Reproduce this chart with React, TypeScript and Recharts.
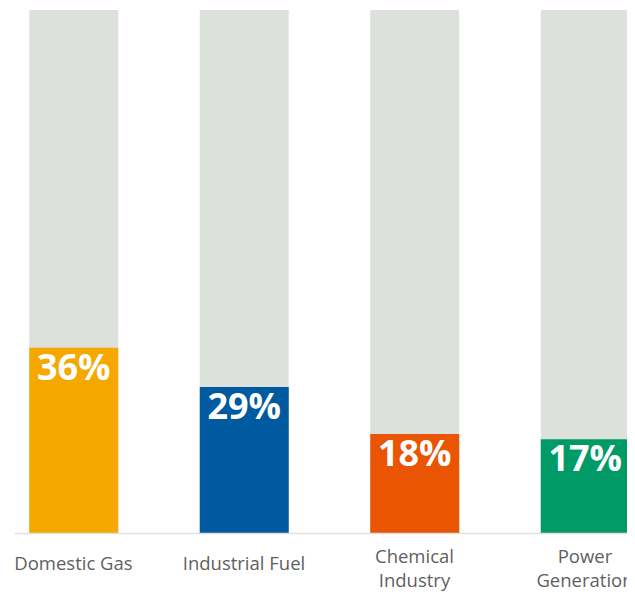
import React from "react"
import { BarChart, Bar, XAxis, YAxis, Cell, LabelList } from "recharts"

// category labels (line breaks as drawn)
const categories = ["Domestic Gas", "Industrial Fuel", "Chemical\nIndustry", "Power\nGeneration"]
// share printed on each bar
const shares = [36, 29, 18, 17]
// bar heights as drawn (percent of full column)
const heights = [35.5, 28, 19, 18]
const colors = ["#f5a800", "#005a9f", "#ea5504", "#009a66"]

const data = categories.map((name, i) => ({
  idx: i,
  name,
  share: shares[i],
  value: heights[i],
}))

const CategoryTick = ({ x, y, payload }: any) => {
  const lines = String(categories[payload.value] ?? "").split("\n")
  const first = 36.5 - (lines.length - 1) * 7
  return (
    <text
      x={x}
      y={y}
      textAnchor="middle"
      fill="#5f5f5f"
      fontSize={18.5}
      fontFamily="'Open Sans', sans-serif"
    >
      {lines.map((line, i) => (
        <tspan key={i} x={x} dy={i === 0 ? first : 24}>
          {line}
        </tspan>
      ))}
    </text>
  )
}

const ShareLabel = ({ x, y, width, index }: any) => (
  <text
    x={x + width / 2}
    y={y + 32}
    textAnchor="middle"
    fill="#ffffff"
    fontSize={36}
    fontWeight={700}
    fontFamily="'Open Sans', sans-serif"
  >
    {shares[index]}%
  </text>
)

export default function App() {
  return (
    <div style={{ width: 660, height: 592 }}>
      <style>{`html, body { overflow: hidden; }`}</style>
      <BarChart
        width={660}
        height={592}
        data={data}
        margin={{ top: 2, right: 0, left: 7, bottom: 0 }}
      >
        <XAxis
          dataKey="idx"
          type="number"
          domain={[-0.3431, 3.4868]}
          allowDataOverflow
          ticks={[0, 1, 2, 3]}
          tick={<CategoryTick />}
          tickLine={false}
          tickSize={0}
          tickMargin={0}
          height={66.5}
          axisLine={{ stroke: "#dfe1df", strokeWidth: 1.5 }}
          interval={0}
        />
        <YAxis hide domain={[0, 100]} />
        <Bar
          dataKey="value"
          barSize={89}
          background={{ fill: "#dde1dc" }}
          isAnimationActive={false}
        >
          {data.map((d, i) => (
            <Cell key={`cell-${i}`} fill={colors[i]} />
          ))}
          <LabelList dataKey="share" content={<ShareLabel />} />
        </Bar>
      </BarChart>
    </div>
  )
}
